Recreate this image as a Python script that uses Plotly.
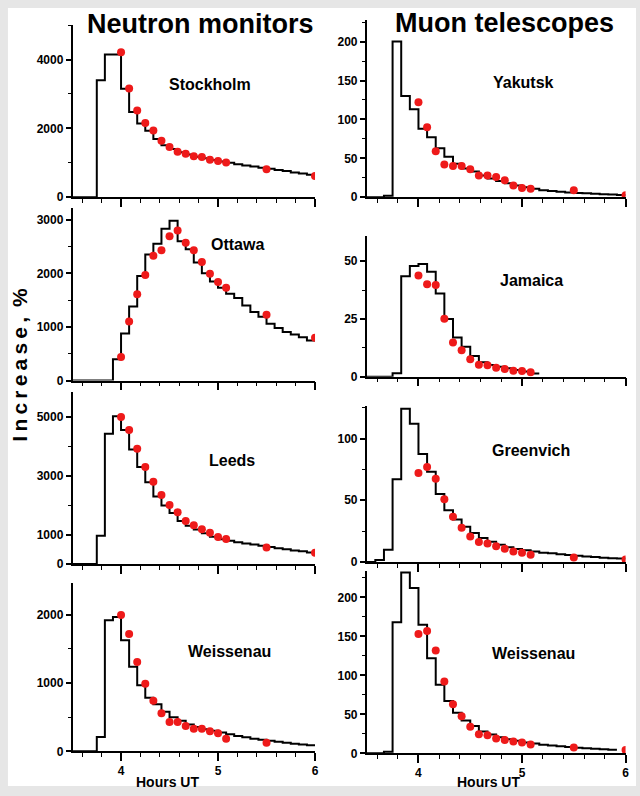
import plotly.graph_objects as go

W, H = 640, 796
FONT = "Liberation Sans, Arial, Helvetica, sans-serif"

# ---------------- data ----------------
STEP_START_H = 3.5          # model histogram starts at 03:30 UT
STEP_MIN = 5                # 5-minute bins
dot_minutes = [240, 245, 250, 255, 260, 265, 270, 275, 280, 285, 290, 295, 300, 305, 330, 360]

stations = ["Stockholm", "Yakutsk", "Ottawa", "Jamaica", "Leeds", "Greenvich", "Weissenau", "Weissenau"]

stockholm_model = [0, 0, 0, 3400, 4150, 4150, 3150, 2480, 2140, 1930, 1690, 1510, 1400, 1310, 1240,
                   1180, 1130, 1080, 1040, 1000, 960, 925, 890, 860, 830, 790, 760, 720, 690, 650]
stockholm_obs = [4210, 3160, 2520, 2160, 1940, 1640, 1460, 1320, 1260, 1190, 1170, 1090, 1050, 1010, 810, 620]

yakutsk_model = [0, 0, 2, 200, 130, 113, 88, 77, 63, 52, 43, 37, 33, 28, 24,
                 21, 18, 15, 13, 11, 9, 8, 7, 6, 5.5, 5, 4.5, 4, 3.5, 3]
yakutsk_obs = [122, 90, 59, 42, 40, 40, 36, 28, 28, 26, 22, 15, 12, 11, 9, 2.5]

ottawa_model = [0, 0, 0, 0, 0, 400, 880, 1380, 1950, 2350, 2550, 2830, 2980, 2600, 2450,
                2200, 2000, 1850, 1730, 1620, 1540, 1400, 1280, 1190, 1060, 980, 905, 860, 810, 750]
ottawa_obs = [440, 1100, 1610, 1970, 2330, 2430, 2690, 2800, 2570, 2430, 2210, 1990, 1840, 1730, 1230, 800]

jamaica_model = [0, 0, 0, 1.5, 43.5, 48, 48.8, 45.5, 36, 25, 17, 13, 9, 6.2, 5.0, 4.3, 3.6, 2.9, 2.2, 1.4]
jamaica_obs = [43.8, 40.1, 39.7, 25.1, 14.8, 11.5, 7.6, 5.2, 4.9, 3.9, 3.3, 2.6, 2.4, 1.9]

leeds_model = [0, 0, 0, 960, 4430, 5030, 4560, 3900, 3300, 2780, 2300, 1990, 1740, 1460, 1300,
               1170, 1050, 930, 840, 790, 740, 700, 660, 620, 580, 540, 500, 460, 430, 390]
leeds_obs = [5000, 4560, 3920, 3300, 2800, 2350, 2010, 1760, 1460, 1320, 1180, 1060, 920, 850, 560, 380]

greenvich_model = [0, 1.6, 10, 67, 124, 112, 87.5, 73, 55, 42, 34.5, 28.5, 23.5, 19.5, 16.5,
                   14, 12, 10.5, 9.5, 8.5, 7.5, 7, 6.2, 5.6, 5, 4.5, 4, 3.5, 3.1, 2.8]
greenvich_obs = [72, 77, 67.4, 50.8, 36.6, 27.8, 20.6, 16.3, 15, 12.8, 10.7, 8.6, 7.5, 5.9, 3.7, 2.1]

weissenau_nm_model = [0, 0, 0, 210, 1920, 1970, 1630, 1240, 970, 785, 690, 580, 500, 450, 395,
                      355, 325, 300, 275, 250, 225, 205, 185, 170, 155, 140, 125, 112, 100, 90]
weissenau_nm_obs = [2000, 1720, 1310, 990, 740, 560, 430, 430, 370, 330, 330, 295, 265, 185, 125]

weissenau_mt_model = [0, 0, 2, 168, 232, 212, 165, 122, 88, 67, 52, 42, 35, 28, 24,
                      20.5, 18, 16, 14, 12.5, 11, 10, 9, 8, 7.2, 6.5, 5.8, 5.2, 4.6]
weissenau_mt_obs = [153, 157, 132, 92, 63, 47.5, 34, 24.6, 23.3, 19, 17, 15.3, 14, 11.4, 7.6, 4.2]

models = [stockholm_model, yakutsk_model, ottawa_model, jamaica_model,
          leeds_model, greenvich_model, weissenau_nm_model, weissenau_mt_model]
observed = [stockholm_obs, yakutsk_obs, ottawa_obs, jamaica_obs,
            leeds_obs, greenvich_obs, weissenau_nm_obs, weissenau_mt_obs]

x_major = [4, 5, 6]
x_minor = [3.6, 3.8, 4.2, 4.4, 4.6, 4.8, 5.2, 5.4, 5.6, 5.8]

# ---------------- layout specs (pixel geometry) ----------------
def fx(p):
    return p / W

def fy(p):
    return 1 - p / H

col_px = {0: (73, 317), 1: (369, 629.5)}
# (col, top_px, zero_px, ymax, major ticks, minor ticks, label position)
specs = [
    (0, 25, 199, 5010, [0, 2000, 4000], [1000, 3000, 5000], (211, 85)),
    (1, 20, 199, 228, [0, 50, 100, 150, 200], [25, 75, 125, 175, 225], (527, 83)),
    (0, 210, 384, 3215, [0, 1000, 2000, 3000], [500, 1500, 2500], (239, 247)),
    (1, 238, 380, 61, [0, 25, 50], [12.5, 37.5], (535, 283)),
    (0, 395, 569, 5870, [0, 1000, 3000, 5000], [2000, 4000], (233, 465)),
    (1, 410, 567, 126, [0, 50, 100], [25, 75, 125], (534, 455)),
    (0, 588, 758, 2470, [0, 1000, 2000], [500, 1500], (231, 657)),
    (1, 576, 760, 234, [0, 50, 100, 150, 200], [25, 75, 125, 175, 225], (537, 659)),
]

fig = go.Figure()
layout = dict(
    width=W, height=H,
    margin=dict(l=0, r=0, t=0, b=0),
    paper_bgcolor="#e6e6e6",
    plot_bgcolor="white",
    showlegend=False,
    font=dict(family=FONT, color="black"),
)

annotations = []
tickfont = dict(family=FONT, size=12, color="black", weight="bold")

for i, (col, top, zero, ymax, yt, ym, (lx, ly)) in enumerate(specs):
    n = i + 1
    xa = "x" if n == 1 else f"x{n}"
    ya = "y" if n == 1 else f"y{n}"
    model = models[i]
    edges = [STEP_START_H + k * STEP_MIN / 60 for k in range(len(model) + 1)]
    fig.add_trace(go.Scatter(
        x=edges, y=list(model) + [model[-1]], mode="lines",
        line=dict(color="black", width=2, shape="hv"),
        xaxis=xa, yaxis=ya, hoverinfo="skip"))
    obs = observed[i]
    fig.add_trace(go.Scatter(
        x=[m / 60 for m in dot_minutes[:len(obs)]], y=obs, mode="markers",
        marker=dict(color="#ee1a1a", size=8),
        xaxis=xa, yaxis=ya))

    bottom_row = i >= 6
    x0, x1 = col_px[col]
    layout["xaxis" if n == 1 else f"xaxis{n}"] = dict(
        domain=[fx(x0), fx(x1)], range=[3.5, 6.0], anchor=ya,
        showline=True, linecolor="black", linewidth=1.5,
        showgrid=False, zeroline=False,
        ticks="outside", tickvals=x_major, ticktext=[str(v) for v in x_major],
        ticklen=8, tickwidth=1.5, tickcolor="black",
        minor=dict(tickvals=x_minor, ticks="outside", ticklen=4, tickwidth=1, tickcolor="black"),
        showticklabels=bottom_row, tickfont=tickfont,
    )
    layout["yaxis" if n == 1 else f"yaxis{n}"] = dict(
        domain=[fy(zero), fy(top)], range=[0, ymax], anchor=xa,
        showline=True, linecolor="black", linewidth=1.5,
        showgrid=False, zeroline=False,
        ticks="outside", tickvals=yt, ticktext=[str(v) for v in yt],
        ticklen=5, tickwidth=1.5, tickcolor="black",
        minor=dict(tickvals=ym, ticks="outside", ticklen=3, tickwidth=1, tickcolor="black"),
        tickfont=tickfont,
    )
    annotations.append(dict(
        text=stations[i], x=fx(lx), y=fy(ly), xref="paper", yref="paper",
        showarrow=False, xanchor="center", yanchor="middle",
        font=dict(family=FONT, size=16, color="black", weight="bold")))

# column titles
annotations.append(dict(text="Neutron monitors", x=fx(202), y=fy(24), xref="paper", yref="paper",
                        showarrow=False, xanchor="center", yanchor="middle",
                        font=dict(family=FONT, size=27, color="black", weight="bold")))
annotations.append(dict(text="Muon telescopes", x=fx(508), y=fy(23), xref="paper", yref="paper",
                        showarrow=False, xanchor="center", yanchor="middle",
                        font=dict(family=FONT, size=27, color="black", weight="bold")))
# axis titles
for cx in (169, 492):
    annotations.append(dict(text="Hours UT", x=fx(cx), y=fy(789), xref="paper", yref="paper",
                            showarrow=False, xanchor="center", yanchor="middle",
                            font=dict(family=FONT, size=14, color="black", weight="bold")))
ylab = "\u2009".join(list("Increase,")) + " \u2009%"
annotations.append(dict(text=ylab, x=fx(20), y=fy(368), xref="paper", yref="paper",
                        showarrow=False, xanchor="center", yanchor="middle", textangle=-90,
                        font=dict(family=FONT, size=21, color="black", weight="bold")))

layout["annotations"] = annotations
layout["shapes"] = [dict(type="rect", xref="paper", yref="paper",
                         x0=fx(8), x1=1.0, y0=fy(793), y1=fy(8),
                         fillcolor="white", line=dict(width=0), layer="below")]

fig.update_layout(**layout)
fig.write_html("out.html")
